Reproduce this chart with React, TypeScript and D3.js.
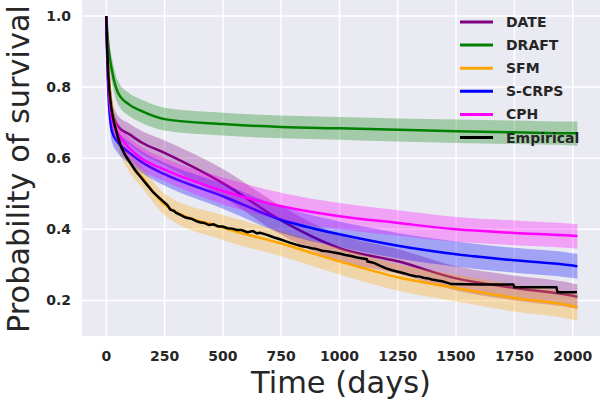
import React from 'react'
import * as d3 from 'd3'

const times = [0, 5, 10, 25, 50, 100, 150, 250, 500, 750, 1000, 1250, 1500, 1750, 2000, 2020]

const dateMean = [1.0, 0.9, 0.84, 0.735, 0.69, 0.667, 0.645, 0.615, 0.53, 0.425, 0.347, 0.31, 0.262, 0.235, 0.213, 0.21]
const dateLo = [1.0, 0.88, 0.815, 0.705, 0.66, 0.637, 0.613, 0.58, 0.49, 0.385, 0.31, 0.275, 0.228, 0.2, 0.178, 0.175]
const dateHi = [1.0, 0.92, 0.865, 0.765, 0.72, 0.697, 0.677, 0.65, 0.57, 0.465, 0.385, 0.345, 0.296, 0.27, 0.248, 0.245]

const draftMean = [1.0, 0.95, 0.91, 0.845, 0.785, 0.75, 0.733, 0.71, 0.696, 0.688, 0.684, 0.68, 0.676, 0.673, 0.67, 0.67]
const draftLo = [1.0, 0.92, 0.88, 0.812, 0.752, 0.718, 0.7, 0.678, 0.664, 0.656, 0.652, 0.647, 0.643, 0.64, 0.636, 0.635]
const draftHi = [1.0, 0.975, 0.94, 0.88, 0.818, 0.782, 0.765, 0.742, 0.728, 0.72, 0.716, 0.712, 0.709, 0.706, 0.703, 0.703]

const sfmMean = [1.0, 0.9, 0.84, 0.735, 0.66, 0.59, 0.55, 0.47, 0.405, 0.36, 0.31, 0.265, 0.235, 0.207, 0.184, 0.181]
const sfmLo = [1.0, 0.88, 0.815, 0.705, 0.63, 0.56, 0.52, 0.44, 0.37, 0.324, 0.273, 0.228, 0.197, 0.169, 0.146, 0.143]
const sfmHi = [1.0, 0.92, 0.865, 0.765, 0.69, 0.62, 0.58, 0.5, 0.44, 0.396, 0.347, 0.302, 0.273, 0.245, 0.222, 0.219]

const scrpsMean = [1.0, 0.86, 0.77, 0.675, 0.645, 0.615, 0.59, 0.555, 0.493, 0.427, 0.386, 0.354, 0.33, 0.313, 0.298, 0.296]
const scrpsLo = [1.0, 0.84, 0.745, 0.645, 0.615, 0.585, 0.56, 0.523, 0.458, 0.39, 0.35, 0.318, 0.295, 0.278, 0.263, 0.261]
const scrpsHi = [1.0, 0.88, 0.795, 0.705, 0.675, 0.645, 0.62, 0.587, 0.528, 0.464, 0.422, 0.39, 0.366, 0.348, 0.333, 0.331]

const cphMean = [1.0, 0.88, 0.8, 0.71, 0.67, 0.628, 0.6, 0.568, 0.508, 0.465, 0.437, 0.418, 0.4, 0.39, 0.382, 0.381]
const cphLo = [1.0, 0.86, 0.775, 0.68, 0.64, 0.598, 0.568, 0.535, 0.47, 0.427, 0.4, 0.382, 0.365, 0.355, 0.347, 0.346]
const cphHi = [1.0, 0.9, 0.825, 0.74, 0.7, 0.658, 0.632, 0.6, 0.546, 0.503, 0.474, 0.454, 0.435, 0.425, 0.416, 0.415]

// Kaplan-Meier (empirical) curve, dense points; visible drops given as pairs
const empTimes = [0, 3, 6, 10, 15, 20, 25, 35, 50, 65, 80, 100, 125, 150, 175, 200, 225, 250, 262, 275, 290, 300, 320, 340, 365, 386, 400, 420, 440, 460, 480, 500, 520, 540, 560, 580, 605, 629, 645, 660, 686, 700, 720, 745, 771, 790, 814, 835, 860, 880, 900, 925, 950, 975, 1000, 1025, 1050, 1075, 1100, 1117, 1120, 1150, 1175, 1200, 1225, 1255, 1280, 1300, 1326, 1345, 1360, 1380, 1396, 1420, 1440, 1460, 1480, 1600, 1745, 1750, 1930, 1935, 2018]
const empValues = [1.0, 0.93, 0.87, 0.82, 0.78, 0.75, 0.727, 0.695, 0.66, 0.63, 0.61, 0.59, 0.565, 0.545, 0.525, 0.505, 0.49, 0.475, 0.468, 0.455, 0.452, 0.446, 0.44, 0.433, 0.43, 0.423, 0.42, 0.418, 0.412, 0.414, 0.408, 0.408, 0.403, 0.402, 0.398, 0.398, 0.392, 0.395, 0.389, 0.39, 0.385, 0.382, 0.377, 0.372, 0.366, 0.362, 0.357, 0.353, 0.35, 0.347, 0.345, 0.34, 0.338, 0.335, 0.332, 0.328, 0.325, 0.321, 0.318, 0.316, 0.31, 0.305, 0.297, 0.29, 0.285, 0.28, 0.276, 0.272, 0.268, 0.267, 0.264, 0.262, 0.259, 0.256, 0.254, 0.25, 0.246, 0.245, 0.245, 0.237, 0.237, 0.223, 0.223]

const xTicks = [0, 250, 500, 750, 1000, 1250, 1500, 1750, 2000]
const yTicks = [0.2, 0.4, 0.6, 0.8, 1.0]

const models = [
  { name: 'DATE', color: '#800080', mean: dateMean, lo: dateLo, hi: dateHi },
  { name: 'DRAFT', color: '#008000', mean: draftMean, lo: draftLo, hi: draftHi },
  { name: 'SFM', color: '#ffa500', mean: sfmMean, lo: sfmLo, hi: sfmHi },
  { name: 'S-CRPS', color: '#0000ff', mean: scrpsMean, lo: scrpsLo, hi: scrpsHi },
  { name: 'CPH', color: '#ff00ff', mean: cphMean, lo: cphLo, hi: cphHi },
]

const W = 600
const H = 400
const left = 82
const right = 600
const top = 0
const bottom = 336
const textColor = '#262626'

export default function App() {
  if (typeof document !== 'undefined') document.body.style.margin = '0'

  const x = d3.scaleLinear().domain([-104, 2117]).range([left, right])
  const y = d3.scaleLinear().domain([0.1, 1.045]).range([bottom, top])

  const line = d3.line<number>()
    .x((_, i) => x(times[i]))
    .y(v => y(v))
    .curve(d3.curveMonotoneX)

  const band = (lo: number[], hi: number[]) =>
    d3.area<number>()
      .x(t => x(t))
      .y0((_, i) => y(lo[i]))
      .y1((_, i) => y(hi[i]))
      .curve(d3.curveMonotoneX)(times)

  const empLine = d3.line<number>()
    .x(t => x(t))
    .y((_, i) => y(empValues[i]))(empTimes)

  return (
    <svg width={W} height={H} style={{ display: 'block', fontFamily: 'DejaVu Sans' }}>
      <defs>
        <clipPath id="plot">
          <rect x={left} y={top} width={right - left} height={bottom - top} />
        </clipPath>
      </defs>
      <rect x={left} y={top} width={right - left} height={bottom - top} fill="#eaeaf2" />
      {xTicks.map(t => (
        <line key={'gx' + t} x1={x(t)} x2={x(t)} y1={top} y2={bottom} stroke="#fff" strokeWidth={1.5} />
      ))}
      {yTicks.map(t => (
        <line key={'gy' + t} x1={left} x2={right} y1={y(t)} y2={y(t)} stroke="#fff" strokeWidth={1.5} />
      ))}

      <g clipPath="url(#plot)">
        {models.map(m => (
          <g key={m.name}>
            <path d={band(m.lo, m.hi) || ''} fill={m.color} fillOpacity={0.3} stroke="none" />
            <path d={line(m.mean) || ''} fill="none" stroke={m.color} strokeWidth={2.5} />
          </g>
        ))}
        <path d={empLine || ''} fill="none" stroke="#000" strokeWidth={2.5} strokeLinejoin="miter" />
      </g>

      {xTicks.map(t => (
        <text key={'tx' + t} x={x(t)} y={361} textAnchor="middle" fontSize={14} fontWeight="bold" fill={textColor}>
          {t}
        </text>
      ))}
      {yTicks.map(t => (
        <text key={'ty' + t} x={71} y={y(t) + 5} textAnchor="end" fontSize={14} fontWeight="bold" fill={textColor}>
          {t.toFixed(1)}
        </text>
      ))}

      <text x={341} y={393} textAnchor="middle" fontSize={31} fill={textColor} textLength={180} lengthAdjust="spacingAndGlyphs">
        Time (days)
      </text>
      <text transform="translate(28.5,169) rotate(-90)" textAnchor="middle" fontSize={30} fill={textColor} textLength={328} lengthAdjust="spacingAndGlyphs">
        Probability of survival
      </text>

      {[...models, { name: 'Empirical', color: '#000' }].map((m, i) => (
        <g key={'lg' + m.name} transform={`translate(0,${22 + i * 23.1})`}>
          <line x1={460} x2={493} y1={0} y2={0} stroke={m.color} strokeWidth={3} />
          <text x={506} y={5} fontSize={14} fontWeight="bold" fill={textColor}>{m.name}</text>
        </g>
      ))}
    </svg>
  )
}
